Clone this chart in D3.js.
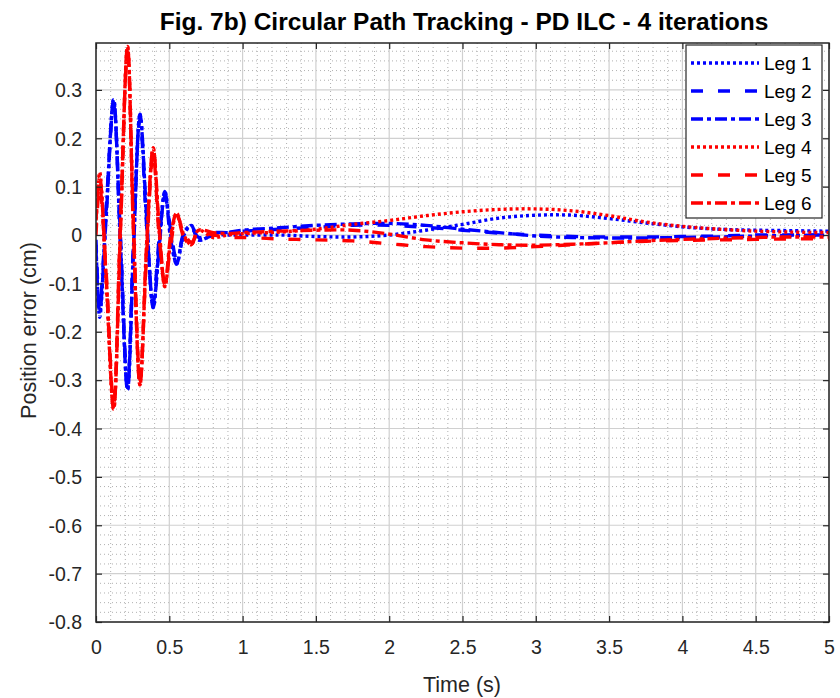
<!DOCTYPE html>
<html><head><meta charset="utf-8">
<script src="https://cdn.jsdelivr.net/npm/d3@7"></script>
<style>
html,body{margin:0;padding:0;background:#fff;}
text{font-family:"Liberation Sans",Arial,Helvetica,sans-serif;}
</style>
</head><body>
<svg id="chart" width="840" height="698"></svg>
<script>
// ---- data ----
const time = [0, 0.025, 0.07, 0.12, 0.165, 0.215, 0.255, 0.30, 0.345, 0.39, 0.43, 0.47, 0.51, 0.55, 0.6, 0.65, 0.7, 0.8, 0.9, 1.0,
  1.25, 1.5, 1.75, 2.0, 2.25, 2.5, 2.75, 3.0, 3.25, 3.5, 3.75, 4.0, 4.25, 4.5, 4.75, 5.0];
const leg1 = [-0.02, -0.17, 0.05, 0.28, 0.0, -0.32, -0.03, 0.25, 0.03, -0.15, -0.02, 0.09, 0.0, -0.06, 0.0, 0.02, -0.01, 0.0, 0.0, 0.0,
  0.0, -0.003, -0.004, 0.0, 0.01, 0.022, 0.035, 0.041, 0.041, 0.034, 0.025, 0.017, 0.012, 0.01, 0.009, 0.008];
const leg2 = [-0.01, -0.15, 0.06, 0.27, 0.01, -0.31, -0.02, 0.24, 0.02, -0.14, -0.01, 0.08, 0.01, -0.05, 0.0, 0.015, -0.005, 0.005, 0.005, 0.008,
  0.012, 0.016, 0.02, 0.02, 0.016, 0.01, 0.004, 0.0, -0.003, -0.004, -0.004, -0.003, -0.002, 0.0, 0.0, 0.0];
const leg3 = [-0.03, -0.16, 0.04, 0.28, -0.01, -0.32, -0.04, 0.25, 0.04, -0.15, -0.03, 0.09, -0.01, -0.06, 0.005, 0.02, -0.01, 0.0, 0.005, 0.01,
  0.015, 0.02, 0.023, 0.024, 0.02, 0.012, 0.005, -0.002, -0.005, -0.006, -0.006, -0.005, -0.004, -0.002, -0.001, 0.0];
const leg4 = [0.02, 0.13, -0.1, -0.36, 0.0, 0.39, 0.02, -0.31, -0.03, 0.18, 0.01, -0.107, -0.01, 0.045, 0.0, -0.02, 0.01, -0.005, 0.0, 0.003,
  0.006, 0.012, 0.022, 0.03, 0.04, 0.048, 0.053, 0.054, 0.05, 0.04, 0.027, 0.018, 0.012, 0.008, 0.006, 0.005];
const leg5 = [0.0, 0.1, -0.08, -0.35, 0.01, 0.38, 0.03, -0.30, -0.04, 0.17, 0.0, -0.1, -0.02, 0.04, 0.005, -0.015, 0.005, 0.0, -0.005, -0.005,
  -0.008, -0.01, -0.012, -0.018, -0.024, -0.027, -0.027, -0.024, -0.02, -0.016, -0.013, -0.011, -0.01, -0.009, -0.008, -0.008];
const leg6 = [0.03, 0.12, -0.09, -0.36, -0.01, 0.39, 0.01, -0.31, -0.02, 0.18, 0.02, -0.105, 0.0, 0.045, -0.005, -0.02, 0.01, 0.005, 0.003, 0.005,
  0.008, 0.01, 0.01, 0.002, -0.01, -0.016, -0.02, -0.021, -0.019, -0.016, -0.012, -0.009, -0.007, -0.005, -0.004, -0.004];
const seriesNames = ["Leg 1", "Leg 2", "Leg 3", "Leg 4", "Leg 5", "Leg 6"];
const seriesValues = [leg1, leg2, leg3, leg4, leg5, leg6];
const seriesColors = ["#0000ff", "#0000ff", "#0000ff", "#ff0000", "#ff0000", "#ff0000"];
const seriesDash = ["3,3", "12,15", "12,4,4,4", "3,3", "12,15", "12,4,4,4"];
const xTicks = [0, 0.5, 1, 1.5, 2, 2.5, 3, 3.5, 4, 4.5, 5];
const xTickLabels = ["0", "0.5", "1", "1.5", "2", "2.5", "3", "3.5", "4", "4.5", "5"];
const yTicks = [-0.8, -0.7, -0.6, -0.5, -0.4, -0.3, -0.2, -0.1, 0, 0.1, 0.2, 0.3];
const yTickLabels = ["-0.8", "-0.7", "-0.6", "-0.5", "-0.4", "-0.3", "-0.2", "-0.1", "0", "0.1", "0.2", "0.3"];
const titleText = "Fig. 7b) Circular Path Tracking - PD ILC - 4 iterations";
const xLabel = "Time (s)";
const yLabel = "Position error (cm)";

// ---- layout ----
const L = 96, R = 829, T = 43, B = 622;
const svg = d3.select("#chart");
const x = d3.scaleLinear().domain([0, 5]).range([L, R]);
const y = d3.scaleLinear().domain([-0.8, 0.397]).range([B, T]);

// minor grid
const xMinor = d3.range(0, 5.0001, 0.1).filter(v => Math.abs(v * 2 - Math.round(v * 2)) > 1e-6);
const yMinor = d3.range(-0.8, 0.397, 0.02).filter(v => Math.abs(v * 10 - Math.round(v * 10)) > 1e-6);
const grid = svg.append("g");
grid.selectAll(".xm").data(xMinor).enter().append("line")
  .attr("x1", d => x(d)).attr("x2", d => x(d)).attr("y1", T).attr("y2", B)
  .attr("stroke", "#b0b0b0").attr("stroke-width", 1).attr("stroke-dasharray", "1,3");
grid.selectAll(".ym").data(yMinor).enter().append("line")
  .attr("x1", L).attr("x2", R).attr("y1", d => y(d)).attr("y2", d => y(d))
  .attr("stroke", "#b0b0b0").attr("stroke-width", 1).attr("stroke-dasharray", "1,3");
// major grid
grid.selectAll(".xM").data(xTicks).enter().append("line")
  .attr("x1", d => x(d)).attr("x2", d => x(d)).attr("y1", T).attr("y2", B)
  .attr("stroke", "#d0d0d0").attr("stroke-width", 1.2);
grid.selectAll(".yM").data(yTicks).enter().append("line")
  .attr("x1", L).attr("x2", R).attr("y1", d => y(d)).attr("y2", d => y(d))
  .attr("stroke", "#d0d0d0").attr("stroke-width", 1.2);

// lines
svg.append("clipPath").attr("id", "clip").append("rect")
  .attr("x", L).attr("y", T).attr("width", R - L).attr("height", B - T);
const line = d3.line().x(d => x(d[0])).y(d => y(d[1])).curve(d3.curveCatmullRom.alpha(0.5));
const plot = svg.append("g").attr("clip-path", "url(#clip)");
seriesValues.forEach((vals, i) => {
  plot.append("path")
    .datum(time.map((t, j) => [t, vals[j]]))
    .attr("d", line)
    .attr("fill", "none")
    .attr("stroke", seriesColors[i])
    .attr("stroke-width", 3.4)
    .attr("stroke-dasharray", seriesDash[i]);
});

// axes
const tickFmtX = (d, i) => xTickLabels[i];
const tickFmtY = (d, i) => yTickLabels[i];
const ax = svg.append("g").attr("transform", `translate(0,${B})`)
  .call(d3.axisBottom(x).tickValues(xTicks).tickFormat(tickFmtX).tickSizeInner(-6).tickSizeOuter(0).tickPadding(18));
const axTop = svg.append("g").attr("transform", `translate(0,${T})`)
  .call(d3.axisTop(x).tickValues(xTicks).tickFormat("").tickSizeInner(-6).tickSizeOuter(0));
const ay = svg.append("g").attr("transform", `translate(${L},0)`)
  .call(d3.axisLeft(y).tickValues(yTicks).tickFormat(tickFmtY).tickSizeInner(-6).tickSizeOuter(0).tickPadding(14));
const ayR = svg.append("g").attr("transform", `translate(${R},0)`)
  .call(d3.axisRight(y).tickValues(yTicks).tickFormat("").tickSizeInner(-6).tickSizeOuter(0));
[ax, axTop, ay, ayR].forEach(g => {
  g.select(".domain").remove();
  g.selectAll(".tick line").attr("stroke", "#262626").attr("stroke-width", 1.2);
  g.selectAll("text").attr("fill", "#262626").style("font-size", "19.5px").style("font-family", "'Liberation Sans', Arial, sans-serif");
});
ay.selectAll("text").attr("dy", "0.35em");
// box
svg.append("rect").attr("x", L).attr("y", T).attr("width", R - L).attr("height", B - T)
  .attr("fill", "none").attr("stroke", "#262626").attr("stroke-width", 1.5);

// labels
svg.append("text").attr("x", 464).attr("y", 30).attr("text-anchor", "middle")
  .style("font-size", "24.5px").style("font-weight", "bold").attr("fill", "#000").text(titleText);
svg.append("text").attr("x", 462).attr("y", 692).attr("text-anchor", "middle")
  .style("font-size", "21.5px").attr("fill", "#262626").text(xLabel);
svg.append("text").attr("transform", `translate(36,${(T + B) / 2 - 2}) rotate(-90)`).attr("text-anchor", "middle")
  .style("font-size", "21.5px").attr("fill", "#262626").text(yLabel);

// legend
const lg = svg.append("g");
lg.append("rect").attr("x", 686).attr("y", 45).attr("width", 136).attr("height", 173)
  .attr("fill", "#fff").attr("stroke", "#262626").attr("stroke-width", 1.2);
seriesNames.forEach((name, i) => {
  const yy = 63 + i * 28;
  lg.append("line").attr("x1", 691).attr("x2", 759).attr("y1", yy).attr("y2", yy)
    .attr("stroke", seriesColors[i]).attr("stroke-width", 3.4).attr("stroke-dasharray", seriesDash[i]);
  lg.append("text").attr("x", 764).attr("y", yy).attr("dy", "0.36em")
    .style("font-size", "19px").attr("fill", "#000").text(name);
});
</script>
</body></html>
